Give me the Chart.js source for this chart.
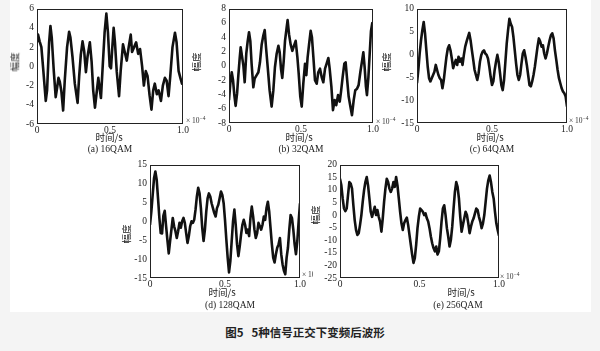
<!DOCTYPE html>
<html>
<head>
<meta charset="utf-8">
<script src="https://cdn.jsdelivr.net/npm/chart.js@4.4.0/dist/chart.umd.min.js"></script>
<style>
  html, body { margin: 0; padding: 0; background: #f4f4f4; }
  #page { position: relative; width: 600px; height: 351px; overflow: hidden; background: #f4f4f4; }
  #sheet { position: absolute; left: 10px; top: 0; width: 581px; height: 312px; background: #fff; }
  .plot { position: absolute; }
  .lbl { position: absolute; color: #222; white-space: nowrap; transform: translate(-50%, -50%); line-height: 1; }
  .serif { font-family: "Liberation Serif", "DejaVu Serif", serif; font-size: 9.5px; }
  .cn { font-family: "Noto Sans CJK SC", sans-serif; font-size: 9.5px; }
  .ylab { transform: translate(-50%, -50%) rotate(-90deg); }
  .exp { position: absolute; font-family: "Liberation Serif", serif; font-size: 7.5px; color: #333; white-space: nowrap; line-height: 1; overflow: hidden; }
  .exp sup { font-size: 5.5px; vertical-align: 3px; }
  #caption { position: absolute; left: 305px; top: 332px; transform: translate(-50%, -50%);
    font-family: "Noto Sans CJK SC", sans-serif; font-weight: bold; font-size: 11.5px; color: #222; white-space: nowrap; }
</style>
</head>
<body>
<div id="page">
  <div id="sheet"></div>
  <div id="charts"></div>
  <div id="texts"></div>
  <div id="caption">图5&nbsp;&nbsp;&nbsp;5种信号正交下变频后波形</div>
</div>
<script>
// time ticks (x 10^-4 s) and sub-figure names
const timeTicks = [0, 0.5, 1.0];
const panelNames = ['(a) 16QAM', '(b) 32QAM', '(c) 64QAM', '(d) 128QAM', '(e) 256QAM'];

// (a) 16QAM at its turning points
const time16 = [0, 0.007, 0.018, 0.030, 0.041, 0.060, 0.069, 0.083, 0.092, 0.101, 0.115, 0.128, 0.138, 0.147,
  0.156, 0.167, 0.179, 0.190, 0.206, 0.220, 0.229, 0.243, 0.259, 0.278, 0.289, 0.300, 0.312, 0.323, 0.335,
  0.346, 0.362, 0.374, 0.385, 0.397, 0.408, 0.420, 0.431, 0.438, 0.450, 0.463, 0.475, 0.486, 0.498, 0.507,
  0.516, 0.525, 0.534, 0.546, 0.562, 0.573, 0.589, 0.601, 0.615, 0.628, 0.642, 0.651, 0.665, 0.679, 0.693,
  0.706, 0.720, 0.732, 0.745, 0.757, 0.771, 0.784, 0.796, 0.807, 0.821, 0.833, 0.849, 0.862, 0.876, 0.888,
  0.901, 0.913, 0.928, 0.945, 0.956, 0.970, 0.982, 0.993, 1.0];
const amp16 = [2.5, 3.3, 2.6, 2.0, 0.0, -3.6, -2.5, 2.5, 4.2, 3.0, -0.5, -3.2, -2.2, -1.2,
  -1.6, -2.6, -4.6, -1.5, 2.0, 3.6, 3.0, 1.0, -1.8, -3.8, -1.0, 1.2, 2.6, 1.6, -0.6,
  1.0, 2.5, 0.5, -2.5, -4.3, -2.8, -1.2, -2.5, -3.3, 0.0, 3.5, 5.5, 3.5, 0.0, -0.2,
  2.0, 4.0, 2.5, -0.5, -3.1, -0.5, 2.3, 1.5, 0.6, 2.0, 3.3, 1.5, 2.0, 2.5, 1.3,
  1.8, 0.0, -2.0, -0.5, -1.0, -3.0, -4.5, -2.5, -1.8, -2.9, -2.5, -3.6, -2.0, -1.2, -1.5,
  -3.1, -1.0, 2.0, 3.5, 2.5, -0.5, -1.2, -1.8, -1.7];

// (b) 32QAM
const time32 = [0, 0.009, 0.019, 0.028, 0.037, 0.046, 0.056, 0.065, 0.074, 0.081, 0.090, 0.100, 0.109, 0.120,
  0.130, 0.139, 0.148, 0.157, 0.169, 0.178, 0.192, 0.204, 0.215, 0.227, 0.238, 0.248, 0.257, 0.269, 0.282,
  0.296, 0.308, 0.319, 0.331, 0.343, 0.352, 0.361, 0.370, 0.380, 0.389, 0.400, 0.407, 0.417, 0.428, 0.440,
  0.451, 0.463, 0.475, 0.484, 0.495, 0.505, 0.516, 0.528, 0.537, 0.546, 0.556, 0.567, 0.576, 0.586, 0.597,
  0.609, 0.620, 0.632, 0.644, 0.655, 0.667, 0.678, 0.690, 0.699, 0.711, 0.722, 0.734, 0.745, 0.757, 0.769,
  0.778, 0.789, 0.801, 0.810, 0.819, 0.831, 0.843, 0.854, 0.866, 0.877, 0.889, 0.900, 0.912, 0.924, 0.933,
  0.942, 0.951, 0.958, 0.968, 0.977, 0.986, 0.995, 1.0];
const amp32 = [-4.8, -2.5, -0.9, -2.0, -4.1, -5.6, -3.9, -1.3, 1.0, 2.6, 1.4, 0.0, -2.3, 1.7,
  3.5, 4.7, 3.5, 0.3, -3.0, -1.8, -1.3, -0.9, 0.5, 3.0, 4.2, 5.0, 2.6, -0.2, -3.4,
  -5.7, -3.4, -0.2, 1.7, 2.8, 1.9, -0.4, -1.7, 0.7, 3.5, 5.3, 6.4, 4.4, 3.0, 2.1,
  2.8, 3.5, 1.2, -1.1, -4.3, -5.7, -2.5, 0.3, -1.3, 1.2, 3.0, 4.9, 4.0, 1.2, -2.0,
  -2.5, -0.9, -0.4, -1.6, -2.3, -0.4, 0.3, 1.1, -0.4, -2.9, -6.2, -4.8, -5.5, -4.1, -5.0,
  -3.6, -1.6, 0.3, 0.5, -1.6, -4.3, -5.7, -6.9, -4.8, -3.4, -3.2, -2.7, -0.9, 0.7, 1.9,
  -0.2, -2.9, -4.1, -1.6, 1.7, 4.9, 6.0, 4.4];

// (c) 64QAM, evenly spaced samples over 0..1
const amp64 = [-6.3, -3.4, 0.2, 3.1, 5.3, 7.1, 4.6, 0.9, -2.7, -5.2,
  -5.9, -5.2, -4.5, -3.8, -2.3, -3.4, -4.5, -5.2, -5.6, -7.4,
  -5.6, -3.0, -0.5, 1.3, 2.0, 0.9, -0.9, -3.0, -2.0, -1.2,
  -2.3, -0.5, -1.6, -0.9, -2.3, -0.1, 1.7, 2.8, 3.8, 4.7,
  3.1, 0.9, -1.2, -3.4, -4.5, -5.6, -4.1, -1.6, -0.1, 0.6,
  0.9, 0.2, -0.1, -0.9, -2.7, -4.9, -6.7, -5.9, -3.4, -1.6,
  -0.1, -1.6, -4.1, -6.7, -7.8, -5.6, -1.6, 2.4, 5.3, 7.8,
  6.7, 6.0, 3.8, 0.9, -2.0, -4.5, -5.6, -4.5, -2.0, 0.2,
  0.9, -0.5, -2.3, -4.5, -6.7, -7.0, -5.9, -4.5, -2.7, -0.5,
  1.7, 3.5, 2.8, 1.7, 2.0, 0.2, -0.9, 0.2, 1.7, 3.1,
  4.2, 4.6, 3.5, 0.9, -1.2, -3.4, -5.2, -6.3, -7.4, -8.1,
  -8.5, -9.2, -11.4];

// (d) 128QAM, evenly spaced samples over 0..1
const amp128 = [-0.9, 2.6, 7.0, 11.4, 13.2, 11.0, 6.1, 0.9, -3.1, -3.2,
  1.5, 2.8, -1.2, -5.0, -8.5, -5.2, -2.2, 0.9, -1.3, -2.6,
  -4.4, -2.6, -0.4, -1.7, 0.0, 0.9, -0.4, -3.1, -5.7, -3.9,
  -1.3, 0.0, -0.4, 0.4, 3.1, 6.6, 8.9, 7.4, 3.5, -1.7,
  -5.2, -2.2, 2.6, 6.1, 7.4, 6.6, 4.8, 3.5, 2.2, 1.3,
  3.5, 4.4, 6.1, 7.9, 7.0, 4.8, 0.4, -4.8, -9.6, -13.5,
  -10.5, -5.2, 0.0, 3.1, -0.9, -6.1, -9.2, -6.6, -3.5, -0.9,
  0.4, -0.9, -3.1, -2.2, -3.9, 0.9, 3.9, 1.3, -2.2, -4.4,
  -3.1, -0.4, -1.3, -2.2, -0.9, 1.3, 0.4, 3.5, 5.2, 2.6,
  -1.7, -6.1, -9.6, -10.9, -8.7, -7.0, -6.1, -4.4, -8.7, -11.4,
  -13.1, -14.0, -9.6, -7.0, -2.2, 1.7, 0.9, -2.2, -6.1, -8.7,
  -5.2, 0.0, 4.8];

// (e) 256QAM, evenly spaced samples over 0..1
const amp256 = [14.4, 11.8, 6.6, 2.6, 1.6, 2.6, 7.9, 13.1, 12.5, 10.5,
  3.9, -2.0, -5.9, -7.9, -7.2, -3.9, 0.0, 5.2, 9.8, 13.1,
  15.1, 11.8, 6.6, 1.3, -0.7, 1.3, 3.3, 0.0, 2.0, -0.7,
  -2.6, -6.6, -1.3, 5.2, 10.5, 14.4, 13.1, 10.5, 9.2, 10.5,
  13.1, 11.2, 15.1, 11.8, 6.6, 1.3, -3.3, -5.9, -3.3, -2.0,
  -1.0, -3.9, -7.9, -11.8, -15.7, -19.0, -17.1, -11.8, -5.2, -0.7,
  2.6, 2.0, 1.3, 0.0, 0.7, -1.3, -2.6, -5.2, -8.5, -11.2,
  -13.1, -14.4, -12.5, -15.7, -14.4, -9.2, -2.6, 2.6, 3.9, 0.0,
  -5.2, -8.5, -12.5, -9.8, -4.6, 2.6, 9.2, 13.1, 11.2, 6.6,
  -0.7, -6.6, -3.9, -1.3, 1.3, 0.0, -3.3, -7.2, -4.6, -2.6,
  -1.3, 0.7, 2.6, 2.0, -0.7, -2.6, -5.2, -3.3, 0.0, 5.2,
  10.5, 13.8, 15.7, 13.1, 9.2, 6.6, 1.3, -3.3, -5.9, -8.2];

// sample times for the evenly sampled traces
function evenTimes(count) {
  const out = [];
  for (let i = 0; i < count; i++) {
    out.push(i / (count - 1));
  }
  return out;
}

function toPoints(times, values) {
  return values.map((v, i) => ({ x: times[i], y: v }));
}

// box around each plot area, like the MATLAB frame
const framePlugin = {
  id: 'frame',
  afterDatasetsDraw(chart) {
    const { ctx, chartArea } = chart;
    ctx.save();
    ctx.strokeStyle = '#222';
    ctx.lineWidth = 1;
    ctx.strokeRect(
      Math.round(chartArea.left) + 0.5,
      Math.round(chartArea.top) + 0.5,
      Math.round(chartArea.right - chartArea.left) - 1,
      Math.round(chartArea.bottom - chartArea.top) - 1
    );
    ctx.restore();
  }
};

const Y_AXIS_W = 27;
const X_AXIS_H = 14;
const PAD_TOP = 7;
const PAD_RIGHT = 10;
const tickFont = { family: '"Liberation Serif", "DejaVu Serif", serif', size: 9.5 };

const panels = [
  { points: toPoints(time16, amp16), yMin: -6, yMax: 6, yStep: 2, left: 37, top: 7, w: 146, h: 117 },
  { points: toPoints(time32, amp32), yMin: -8, yMax: 8, yStep: 2, left: 229, top: 7, w: 144, h: 116 },
  { points: toPoints(evenTimes(amp64.length), amp64), yMin: -15, yMax: 10, yStep: 5, left: 417, top: 7, w: 150, h: 116 },
  { points: toPoints(evenTimes(amp128.length), amp128), yMin: -15, yMax: 15, yStep: 5, left: 150, top: 163, w: 150, h: 115 },
  { points: toPoints(evenTimes(amp256.length), amp256), yMin: -25, yMax: 20, yStep: 5, left: 340, top: 163, w: 159, h: 115 }
];

function buildPanel(panel) {
  const holder = document.createElement('div');
  holder.className = 'plot';
  const width = Y_AXIS_W + panel.w + PAD_RIGHT;
  const height = PAD_TOP + panel.h + X_AXIS_H;
  holder.style.left = (panel.left - Y_AXIS_W) + 'px';
  holder.style.top = (panel.top - PAD_TOP) + 'px';
  const canvas = document.createElement('canvas');
  canvas.width = width;
  canvas.height = height;
  canvas.style.width = width + 'px';
  canvas.style.height = height + 'px';
  holder.appendChild(canvas);
  document.getElementById('charts').appendChild(holder);

  return new Chart(canvas, {
    type: 'line',
    data: {
      datasets: [
        {
          data: panel.points,
          borderColor: '#111',
          borderWidth: 2.6,
          borderJoinStyle: 'round',
          pointRadius: 0,
          tension: 0,
          fill: false
        }
      ]
    },
    options: {
      responsive: false,
      animation: false,
      events: [],
      layout: { autoPadding: false, padding: { top: PAD_TOP, right: PAD_RIGHT, left: 0, bottom: 0 } },
      plugins: { legend: { display: false }, tooltip: { enabled: false } },
      scales: {
        x: {
          type: 'linear',
          min: 0,
          max: 1,
          grid: { display: false, drawTicks: false },
          border: { display: false },
          afterFit(scale) { scale.height = X_AXIS_H; },
          afterBuildTicks(scale) { scale.ticks = timeTicks.map((v) => ({ value: v })); },
          ticks: {
            padding: 1,
            color: '#222',
            font: tickFont,
            maxRotation: 0,
            autoSkip: false,
            callback: (v) => (v === 0 ? '0' : Number(v).toFixed(1))
          }
        },
        y: {
          min: panel.yMin,
          max: panel.yMax,
          grid: { display: false, drawTicks: false },
          border: { display: false },
          afterFit(scale) { scale.width = Y_AXIS_W; },
          ticks: { stepSize: panel.yStep, padding: 3, color: '#222', font: tickFont, autoSkip: false }
        }
      }
    },
    plugins: [framePlugin]
  });
}

panels.forEach(buildPanel);

// axis titles, captions and the x10^-4 multipliers
const yTitlePos = [[15, 62], [197, 62], [387, 62], [127, 234], [316, 215]];
const xTitlePos = [[109, 138], [299, 138], [490, 138], [222, 293], [461, 293]];
const namePos = [[110, 150], [301, 150], [492, 150], [230, 306], [458, 306]];
const expPos = [[186, 116, 20], [376, 117, 20], [569, 116, 20], [302, 270, 11], [500, 272, 20]];

const texts = document.getElementById('texts');
function addText(cls, html, x, y) {
  const el = document.createElement('div');
  el.className = cls;
  el.innerHTML = html;
  el.style.left = x + 'px';
  el.style.top = y + 'px';
  texts.appendChild(el);
  return el;
}

panelNames.forEach((name, i) => {
  addText('lbl cn ylab', '幅度', yTitlePos[i][0], yTitlePos[i][1]);
  addText('lbl cn', '时间/s', xTitlePos[i][0], xTitlePos[i][1]);
  addText('lbl serif', name, namePos[i][0], namePos[i][1]);
  const e = addText('exp', '× 10<sup>−4</sup>', expPos[i][0], expPos[i][1]);
  e.style.width = expPos[i][2] + 'px';
});
</script>
</body>
</html>
